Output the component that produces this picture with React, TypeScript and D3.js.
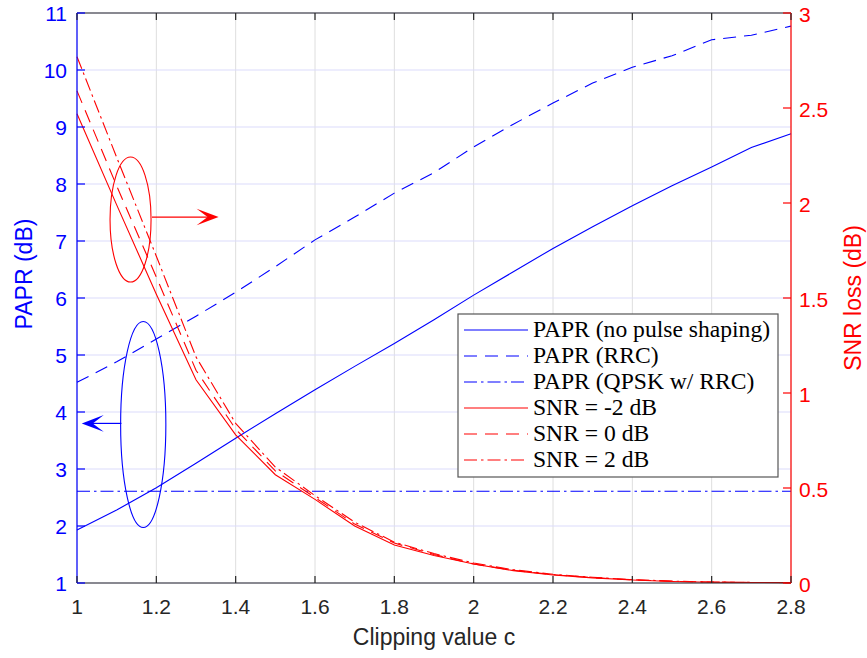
import React from 'react';
import * as d3 from 'd3';

// ---------- data ----------
const clipValues = [1.0, 1.1, 1.2, 1.3, 1.4, 1.5, 1.6, 1.7, 1.8, 1.9, 2.0, 2.1, 2.2, 2.3, 2.4, 2.5, 2.6, 2.7, 2.8];
const paprNoShaping = [1.93, 2.28, 2.67, 3.1, 3.54, 3.97, 4.39, 4.8, 5.2, 5.62, 6.05, 6.46, 6.87, 7.25, 7.62, 7.97, 8.3, 8.64, 8.88];
const paprRRC = [4.52, 4.88, 5.28, 5.68, 6.1, 6.55, 7.02, 7.42, 7.84, 8.2, 8.65, 9.05, 9.42, 9.77, 10.05, 10.25, 10.53, 10.61, 10.77];
const paprQPSK = [2.61, 2.61, 2.61, 2.61, 2.61, 2.61, 2.61, 2.61, 2.61, 2.61, 2.61, 2.61, 2.61, 2.61, 2.61, 2.61, 2.61, 2.61, 2.61];
const snrLossM2 = [2.47, 1.99, 1.52, 1.07, 0.78, 0.57, 0.44, 0.3, 0.2, 0.145, 0.1, 0.065, 0.042, 0.027, 0.016, 0.008, 0.004, 0.003, 0.002];
const snrLoss0 = [2.59, 2.09, 1.61, 1.12, 0.81, 0.59, 0.45, 0.31, 0.21, 0.15, 0.1, 0.067, 0.044, 0.028, 0.017, 0.009, 0.005, 0.003, 0.002];
const snrLoss2 = [2.77, 2.24, 1.72, 1.19, 0.84, 0.61, 0.46, 0.32, 0.215, 0.155, 0.105, 0.07, 0.046, 0.03, 0.018, 0.01, 0.005, 0.003, 0.002];

const xTicks = [1, 1.2, 1.4, 1.6, 1.8, 2, 2.2, 2.4, 2.6, 2.8];
const leftTicks = [1, 2, 3, 4, 5, 6, 7, 8, 9, 10, 11];
const rightTicks = [0, 0.5, 1, 1.5, 2, 2.5, 3];

const legendLabels = [
  'PAPR (no pulse shaping)',
  'PAPR (RRC)',
  'PAPR (QPSK w/ RRC)',
  'SNR = -2 dB',
  'SNR = 0 dB',
  'SNR = 2 dB',
];

// annotation anchors in data units
const redEllipse = { c: 1.135, y: 1.913, rc: 0.0517, ry: 0.329 };
const redArrow = { c0: 1.189, c1: 1.357, y: 1.926 };
const blueEllipse = { c: 1.167, y: 3.78, rc: 0.057, ry: 1.807 };
const blueArrow = { c0: 1.112, c1: 1.012, y: 3.8 };

// ---------- layout ----------
const W = 867;
const H = 658;
const left = 77;
const right = 791;
const top = 13;
const bottom = 583;

const BLUE = '#0000ff';
const RED = '#ff0000';
const DARK = '#262626';
const SANS = '"Liberation Sans", Arial, Helvetica, sans-serif';
const SERIF = '"Liberation Serif", "Times New Roman", serif';

const DASH = '13,8';
const DASHDOT = '13,4,2.5,4';

export default function App() {
  const x = d3.scaleLinear().domain([1, 2.8]).range([left, right]);
  const yL = d3.scaleLinear().domain([1, 11]).range([bottom, top]);
  const yR = d3.scaleLinear().domain([0, 3]).range([bottom, top]);

  const lineL = (vals: number[]) =>
    d3.line<number>().x((_, i) => x(clipValues[i])).y((v) => yL(v))(vals) || '';
  const lineR = (vals: number[]) =>
    d3.line<number>().x((_, i) => x(clipValues[i])).y((v) => yR(v))(vals) || '';

  const series = [
    { vals: paprNoShaping, axis: 'L', color: BLUE, dash: undefined as string | undefined },
    { vals: paprRRC, axis: 'L', color: BLUE, dash: DASH },
    { vals: paprQPSK, axis: 'L', color: BLUE, dash: DASHDOT },
    { vals: snrLossM2, axis: 'R', color: RED, dash: undefined },
    { vals: snrLoss0, axis: 'R', color: RED, dash: DASH },
    { vals: snrLoss2, axis: 'R', color: RED, dash: DASHDOT },
  ];

  const arrowHead = (tipX: number, tipY: number, dir: number, color: string) => {
    const L = 22;
    const w = 8.3;
    const notch = 11;
    const pts = [
      [tipX, tipY],
      [tipX - dir * L, tipY - w],
      [tipX - dir * notch, tipY],
      [tipX - dir * L, tipY + w],
    ];
    return <polygon points={pts.map((p) => p.join(',')).join(' ')} fill={color} stroke="none" />;
  };

  const legX = 458;
  const legY = 314;
  const legW = 320;
  const rowH = 26;
  const legH = 163;

  return (
    <svg width={W} height={H} style={{ position: 'absolute', left: 0, top: 0, background: '#fff' }}>
      <rect x={0} y={0} width={W} height={H} fill="#fff" />
      {/* grid */}
      {xTicks.map((t) => (
        <line key={'gx' + t} x1={x(t)} x2={x(t)} y1={top} y2={bottom} stroke="#dedede" strokeWidth={1} />
      ))}
      {leftTicks.map((t) => (
        <line key={'gy' + t} x1={left} x2={right} y1={yL(t)} y2={yL(t)} stroke="#dcdcfb" strokeWidth={1.2} />
      ))}

      {/* data lines */}
      {series.map((s, i) => (
        <path
          key={'s' + i}
          d={s.axis === 'L' ? lineL(s.vals) : lineR(s.vals)}
          fill="none"
          stroke={s.color}
          strokeWidth={1.1}
          strokeDasharray={s.dash}
        />
      ))}

      {/* annotations */}
      <ellipse
        cx={x(redEllipse.c)}
        cy={yR(redEllipse.y)}
        rx={x(1 + redEllipse.rc) - x(1)}
        ry={yR(0) - yR(redEllipse.ry)}
        fill="none"
        stroke={RED}
        strokeWidth={1.1}
      />
      <line x1={x(redArrow.c0)} x2={x(redArrow.c1) - 10} y1={yR(redArrow.y)} y2={yR(redArrow.y)} stroke={RED} strokeWidth={1.2} />
      {arrowHead(x(redArrow.c1), yR(redArrow.y), 1, RED)}
      <ellipse
        cx={x(blueEllipse.c)}
        cy={yL(blueEllipse.y)}
        rx={x(1 + blueEllipse.rc) - x(1)}
        ry={yL(1) - yL(1 + blueEllipse.ry)}
        fill="none"
        stroke={BLUE}
        strokeWidth={1.1}
      />
      <line x1={x(blueArrow.c0)} x2={x(blueArrow.c1) + 10} y1={yL(blueArrow.y)} y2={yL(blueArrow.y)} stroke={BLUE} strokeWidth={1.2} />
      {arrowHead(x(blueArrow.c1), yL(blueArrow.y), -1, BLUE)}

      {/* legend */}
      <rect x={legX} y={legY} width={legW} height={legH} fill="#fff" stroke="#555" strokeWidth={1.2} />
      {legendLabels.map((lab, i) => {
        const cy = legY + 16 + i * rowH;
        const s = series[i];
        return (
          <g key={'lg' + i}>
            <line x1={legX + 6} x2={legX + 70} y1={cy} y2={cy} stroke={s.color} strokeWidth={1.1} strokeDasharray={s.dash} />
            <text x={legX + 75} y={cy + 6.5} fontFamily={SERIF} fontSize={23.6} fill="#000">
              {lab}
            </text>
          </g>
        );
      })}

      {/* axes box */}
      <line x1={left} x2={right} y1={top} y2={top} stroke={DARK} strokeWidth={1.2} />
      <line x1={left} x2={right} y1={bottom} y2={bottom} stroke={DARK} strokeWidth={1.2} />
      <line x1={left} x2={left} y1={top} y2={bottom} stroke={BLUE} strokeWidth={1.2} />
      <line x1={right} x2={right} y1={top} y2={bottom} stroke={RED} strokeWidth={1.2} />

      {/* x ticks */}
      {xTicks.map((t) => (
        <g key={'xt' + t}>
          <line x1={x(t)} x2={x(t)} y1={bottom} y2={bottom - 7} stroke={DARK} strokeWidth={1.2} />
          <line x1={x(t)} x2={x(t)} y1={top} y2={top + 7} stroke={DARK} strokeWidth={1.2} />
          <text x={x(t)} y={614} textAnchor="middle" fontFamily={SANS} fontSize={21} fill={DARK}>
            {d3.format('~g')(t)}
          </text>
        </g>
      ))}
      {/* left ticks */}
      {leftTicks.map((t) => (
        <g key={'lt' + t}>
          <line x1={left} x2={left + 8} y1={yL(t)} y2={yL(t)} stroke={BLUE} strokeWidth={1.2} />
          <text x={67} y={yL(t) + 8} textAnchor="end" fontFamily={SANS} fontSize={21} fill={BLUE}>
            {t}
          </text>
        </g>
      ))}
      {/* right ticks */}
      {rightTicks.map((t) => (
        <g key={'rt' + t}>
          <line x1={right - 8} x2={right} y1={yR(t)} y2={yR(t)} stroke={RED} strokeWidth={1.2} />
          <text x={799} y={yR(t) + 9} textAnchor="start" fontFamily={SANS} fontSize={21} fill={RED}>
            {d3.format('~g')(t)}
          </text>
        </g>
      ))}

      {/* axis labels */}
      <text x={434} y={645} textAnchor="middle" fontFamily={SANS} fontSize={23} fill={DARK}>
        Clipping value c
      </text>
      <text
        transform={`translate(32,274) rotate(-90)`}
        textAnchor="middle"
        fontFamily={SANS}
        fontSize={23}
        fill={BLUE}
      >
        PAPR (dB)
      </text>
      <text
        transform={`translate(861,${(top + bottom) / 2}) rotate(-90)`}
        textAnchor="middle"
        fontFamily={SANS}
        fontSize={23}
        fill={RED}
      >
        SNR loss (dB)
      </text>
    </svg>
  );
}
